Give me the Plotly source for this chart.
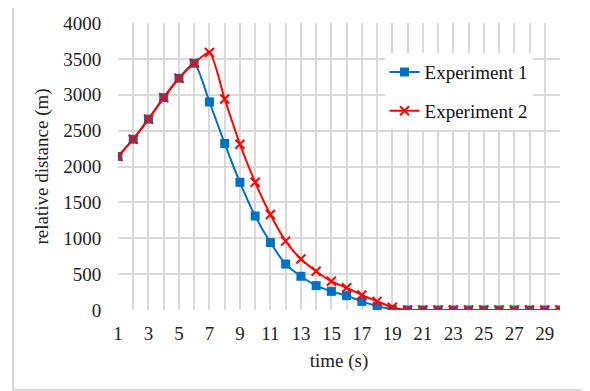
import plotly.graph_objects as go

time_s = list(range(1, 31))
exp1 = [2140, 2380, 2660, 2960, 3230, 3440, 2900, 2320, 1780, 1310, 940, 640, 470, 340, 260, 200, 120, 55, 10,
        0, 0, 0, 0, 0, 0, 0, 0, 0, 0, 0]
exp2 = [2140, 2380, 2660, 2960, 3230, 3440, 3590, 2940, 2310, 1780, 1330, 960, 710, 540, 400, 310, 210, 120, 40,
        0, 0, 0, 0, 0, 0, 0, 0, 0, 0, 0]
x_ticks = list(range(1, 30, 2))
y_ticks = list(range(0, 4001, 500))

FONT = "Liberation Serif, Times New Roman, serif"
GRID = "#d9d9d9"
FS = 19

fig = go.Figure()
fig.add_trace(go.Scatter(
    x=time_s, y=exp1, name="Experiment 1", mode="lines+markers", legendgroup="a",
    line=dict(color="#0070C0", width=2, shape="spline", smoothing=0.6),
    marker=dict(symbol="square", size=9, color="#0070C0"),
))
fig.add_trace(go.Scatter(
    x=time_s, y=exp2, name="Experiment 2", mode="lines+markers", legendgroup="b",
    line=dict(color="#FF0000", width=2, shape="spline", smoothing=0.6),
    marker=dict(symbol="x-thin", size=9, color="#FF0000", line=dict(color="#FF0000", width=2)),
))

fig.update_layout(
    width=590, height=391,
    margin=dict(l=110, r=38, t=15, b=89, autoexpand=False),
    paper_bgcolor="white", plot_bgcolor="white",
    font=dict(family=FONT, size=FS, color="#222222"),
    showlegend=True,
    legend=dict(
        x=0.603, y=0.895, xanchor="left", yanchor="top",
        bgcolor="white", borderwidth=0,
        font=dict(family=FONT, size=FS, color="#111111"),
        traceorder="grouped", tracegroupgap=11, itemwidth=30,
    ),
    xaxis=dict(
        range=[1, 30], tickmode="array", tickvals=x_ticks, ticktext=[str(v) for v in x_ticks],
        showgrid=True, gridcolor=GRID, gridwidth=1.5, automargin=False,
        minor=dict(tickmode="linear", tick0=0, dtick=1, showgrid=True, gridcolor=GRID, gridwidth=1.5),
        zeroline=False, showline=False,
        ticks="outside", ticklen=6, tickcolor="rgba(0,0,0,0)",
        title=dict(text="time (s)", font=dict(family=FONT, size=FS), standoff=10),
        tickfont=dict(family=FONT, size=FS),
    ),
    yaxis=dict(
        range=[0, 4000], tickmode="array", tickvals=y_ticks,
        showgrid=True, gridcolor=GRID, gridwidth=1.5, automargin=False,
        zeroline=False, showline=False,
        ticks="outside", ticklen=12, tickcolor="rgba(0,0,0,0)",
        title=dict(text="relative distance (m)", font=dict(family=FONT, size=FS), standoff=9),
        tickfont=dict(family=FONT, size=FS),
    ),
    shapes=[dict(
        type="rect", xref="paper", yref="paper",
        x0=-0.2376, x1=1.0566, y0=-0.279, y1=1.0627,
        line=dict(color=GRID, width=2), fillcolor="rgba(0,0,0,0)", layer="below",
    )],
)

fig.write_html("out.html")
